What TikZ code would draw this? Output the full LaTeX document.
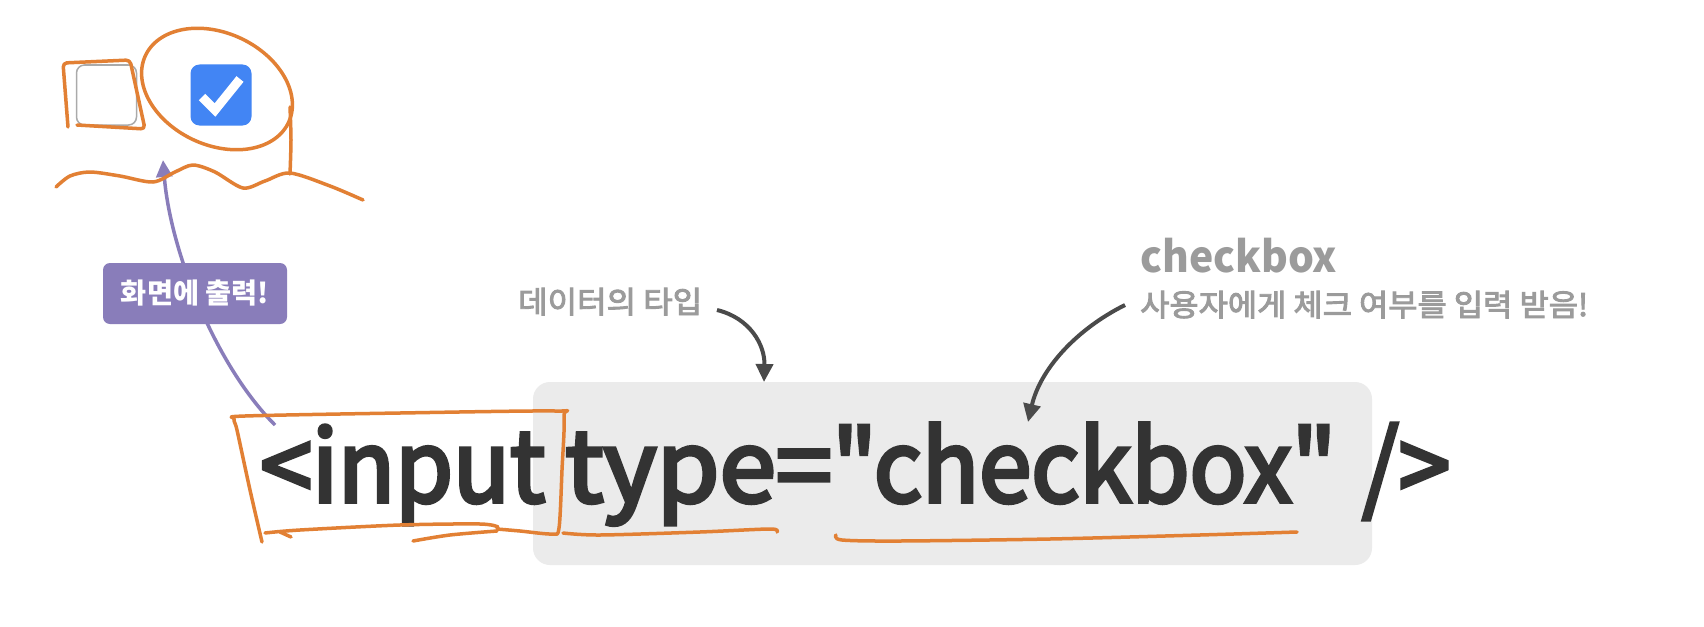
\documentclass[tikz,border=0pt]{standalone}
\usepackage{fontspec}
\usepackage{graphicx}
\setmainfont{Noto Sans CJK KR}
\newfontfamily\codefont{Noto Sans CJK KR}[Ligatures=TeXOff, FakeBold=4]
\newfontfamily\notefont{Noto Sans CJK KR}[FakeBold=3]
\usetikzlibrary{arrows.meta}
\definecolor{codegray}{RGB}{51,51,51}
\definecolor{boxgray}{RGB}{235,235,235}
\definecolor{notegray}{RGB}{155,155,155}
\definecolor{arrowgray}{RGB}{74,74,74}
\definecolor{hand}{RGB}{226,128,52}
\definecolor{lav}{RGB}{137,125,186}
\definecolor{cbblue}{RGB}{66,133,244}
\definecolor{cbline}{RGB}{170,170,170}
\newcommand\fitw[2]{\resizebox{#1}{\height}{#2}}
\begin{document}
\begin{tikzpicture}[x=1pt,y=-1pt,
  code/.style={inner sep=0pt, anchor=base west, text=codegray, font=\codefont\fontsize{99}{110}\selectfont},
  note/.style={inner sep=0pt, anchor=base west, text=notegray, font=\notefont\fontsize{30.5}{34}\selectfont},
  handline/.style={draw=hand, line width=3.5pt, line cap=round, line join=round},
  darrow/.style={draw=arrowgray, line width=4pt, -{Triangle[length=18pt,width=17pt]}},
  larrow/.style={draw=lav, line width=3.5pt, -{Triangle[length=17pt,width=16pt]}},
  tag/.style={fill=lav, rounded corners=7pt, text=white, inner sep=0pt, minimum width=184pt, minimum height=61pt, font=\fontsize{28}{30}\selectfont\bfseries}
]
\fill[white] (0,0) rectangle (1704,626);
\useasboundingbox (0,0) rectangle (1704,626);

% gray code box
\fill[boxgray, rounded corners=17pt] (533,382) rectangle (1372,565);

% code text
\node[code] (tagopen) at (260,502) {\fitw{285pt}{<input}};
\node[code] (typeattr) at (565,502) {\fitw{267pt}{type=}};
\node[code] (value) at (832,502) {\fitw{504pt}{"checkbox"}};
\node[code] (tagclose) at (1362,502) {\fitw{88pt}{/>}};

% notes
\node[note] (typenote) at (518,313) {\fitw{184pt}{데이터의 타입}};
\node[note, font=\fontsize{43}{48}\selectfont\bfseries] (cbtitle) at (1140,272) {\fitw{197pt}{checkbox}};
\node[note] (cbnote) at (1140,316) {\fitw{448pt}{사용자에게 체크 여부를 입력 받음!}};

% arrows from notes
\coordinate (a1s) at (717,310);
\coordinate (a1e) at (764,382);
\draw[darrow] (a1s) .. controls (750,318) and (765,345) .. (a1e);
\coordinate (a2s) at (1125,305);
\coordinate (a2e) at (1028,422);
\draw[darrow] (a2s) .. controls (1075,330) and (1040,370) .. (a2e);

% checkboxes
\node[draw=cbline, line width=1.5pt, fill=white, rounded corners=8pt, minimum size=60pt, inner sep=0pt] (emptybox) at (106.5,95) {};
\node[fill=cbblue, rounded corners=9pt, minimum size=61pt, inner sep=0pt] (checkedbox) at (221,95) {};
\draw[white, line width=9pt] (202,97) -- (215,110) -- (240,79);

% purple arrow and tag
\coordinate (inputtop) at (275,425);
\coordinate (screen) at (163,160);
\draw[larrow] (inputtop) .. controls (215,365) and (170,250) .. (screen);
\node[tag] (outtag) at (195,293.5) {\fitw{148pt}{화면에 출력!}};

% hand-drawn orange marks
\draw[handline, rounded corners=4pt] (68,127) -- (63,63) -- (130,60) -- (145,129) -- (77,125);
\draw[handline] plot[smooth, domain=0:360, samples=73, variable=\t]
  ({217+79*cos(\t)*cos(25)-56*sin(\t)*sin(25)},{89+79*cos(\t)*sin(25)+56*sin(\t)*cos(25)});
\draw[handline] plot[smooth] coordinates {(290,107) (291,140) (290,174)};
\draw[handline] plot[smooth] coordinates {(56,187) (70,176) (90,172) (120,176) (153,182) (175,172) (193,165) (215,172) (243,188) (265,181) (290,173) (330,186) (363,200)};

\draw[handline] plot[smooth, tension=0.5] coordinates {(262,542) (250,490) (237,430) (234,419) (245,416) (400,413) (555,411) (564,416) (562,470) (559,528) (552,534) (520,531) (497,529)};
\draw[handline] plot[smooth] coordinates {(265,533) (300,530) (400,525) (480,524) (498,527)};
\draw[handline] (280,532) -- (291,537);
\draw[handline] plot[smooth] coordinates {(413,541) (450,535) (497,531)};
\draw[handline] plot[smooth] coordinates {(563,533) (600,535) (700,532) (770,529) (777,532)};
\draw[handline] plot[smooth] coordinates {(836,535) (842,540) (900,541) (1050,539) (1200,535) (1297,532)};
\end{tikzpicture}
\end{document}
